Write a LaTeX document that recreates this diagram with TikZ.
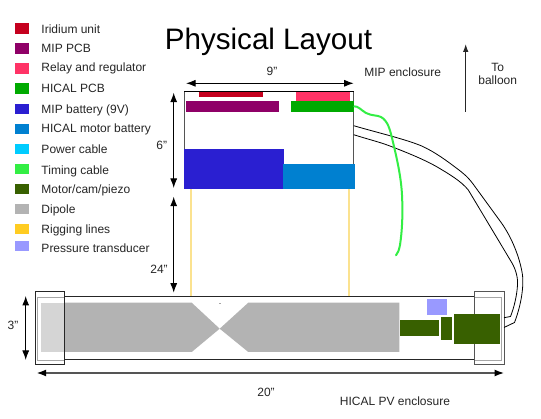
\documentclass[tikz,border=0pt]{standalone}
\usepackage{fontspec}
\setmainfont{Liberation Sans}
\usetikzlibrary{arrows.meta}
\definecolor{cIrid}{HTML}{C5001E}
\definecolor{cMip}{HTML}{8F0067}
\definecolor{cRelay}{HTML}{FF3366}
\definecolor{cHical}{HTML}{00AA00}
\definecolor{cBatt}{HTML}{2A1FD1}
\definecolor{cMotB}{HTML}{0080D0}
\definecolor{cPower}{HTML}{00CCFF}
\definecolor{cTiming}{HTML}{33EE44}
\definecolor{cMotor}{HTML}{386000}
\definecolor{cDipole}{HTML}{B3B3B3}
\definecolor{cRig}{HTML}{FFCC22}
\definecolor{cRigLine}{HTML}{FBE28F}
\definecolor{cPress}{HTML}{9999FF}
\definecolor{cEdge}{HTML}{555555}
\tikzset{
  rbox/.style={inner sep=0pt,outer sep=0pt,rectangle},
  txt/.style={font=\fontsize{12pt}{13pt}\selectfont,text=black!85,inner sep=0pt},
  legendtxt/.style={txt,anchor=base west},
  dim/.style={black,line width=1pt,{Latex[length=9.5pt,width=7pt,color=black]}-{Latex[length=9.5pt,width=7pt,color=black]}},
  dimend/.style={black!85,line width=1pt,-{Latex[length=8pt,width=5.5pt]}},
  cable/.style={black,line width=.8pt},
  timing/.style={cTiming,line width=2pt,line cap=round},
  rigging/.style={cRigLine,line width=1.4pt}
}
\newcommand{\rb}[6]{\node[rbox,minimum width={(#4-#2)*1pt},minimum height={(#5-#3)*1pt},#6] (#1) at ({(#2+#4)/2},{(#3+#5)/2}) {};}
\newcommand{\lgd}[5]{\rb{s#1}{15}{#2}{29}{#2+10.8}{fill=#4}
  \node[legendtxt] (t#1) at (41.3,#3+4.3) {#5};}
\begin{document}
\begin{tikzpicture}[x=1pt,y=-1pt]
\useasboundingbox (0,0) rectangle (541,419);
\fill[white] (0,0) rectangle (541,419);
% legend
\lgd{a}{23.5}{29.7}{cIrid}{Iridium unit}
\lgd{b}{43.5}{48.7}{cMip}{MIP PCB}
\lgd{c}{63.3}{67.7}{cRelay}{Relay and regulator}
\lgd{d}{83.5}{88.7}{cHical}{HICAL PCB}
\lgd{e}{103.7}{109.7}{cBatt}{MIP battery (9V)}
\lgd{f}{123.6}{128.7}{cMotB}{HICAL motor battery}
\lgd{g}{143.6}{149.3}{cPower}{Power cable}
\lgd{h}{163.6}{170.3}{cTiming}{Timing cable}
\lgd{i}{183.6}{189.7}{cMotor}{Motor/cam/piezo}
\lgd{j}{203.6}{209}{cDipole}{Dipole}
\lgd{k}{223.6}{229.3}{cRig}{Rigging lines}
\lgd{l}{240.6}{248.7}{cPress}{Pressure transducer}
% title
\node[inner sep=0pt,anchor=base,font=\fontsize{29.6pt}{34pt}\selectfont] (title) at (268.5,49.5) {Physical Layout};
\node[txt] (mipenc) at (402.7,72) {MIP enclosure};
\node[txt] (balloonA) at (497.7,67) {To};
\node[txt] (balloonB) at (497.7,80.7) {balloon};
\coordinate (upT) at (465.7,44);
\coordinate (upB) at (465.7,111.7);
\draw[dimend] (upB) -- (upT);
% rigging
\coordinate (rigA) at (191,297);
\coordinate (rigB) at (349,297);
\rb{mipbox}{184.3}{91.7}{353.7}{188.7}{draw=cEdge,line width=1pt,fill=white}
\draw[rigging] (mipbox.south west -| rigA) -- (rigA);
\draw[rigging] (mipbox.south west -| rigB) -- (rigB);
% MIP enclosure contents
\draw[black,line width=.8pt] (mipbox.north west) -- (mipbox.north east);
\rb{irid}{199}{91.7}{263}{96.7}{fill=cIrid}
\rb{relay}{296}{91.7}{350}{101.5}{fill=cRelay}
\rb{mippcb}{186}{101}{279.3}{111.7}{fill=cMip}
\rb{hicalpcb}{291}{101}{354.3}{111.7}{fill=cHical}
\rb{mipbat}{184}{149.3}{284}{189}{fill=cBatt}
\rb{motbat}{283}{164}{354.5}{189}{fill=cMotB}
% PV tube
\rb{tube}{64.3}{297}{474.7}{360}{fill=white}
\draw[black!85,line width=1pt] (tube.north west) -- (tube.north east) (tube.south west) -- (tube.south east);
\rb{dipA}{40.7}{302.7}{64}{352}{fill=cDipole!55}
\fill[cDipole] (64,302.7) -- (191.7,302.7) -- (219.7,328.7) -- (191.7,352) -- (64,352) -- cycle;
\fill[cDipole] (399.3,302.7) -- (248.3,302.7) -- (219.7,328.7) -- (248.3,352) -- (399.3,352) -- cycle;
\fill[gray!70] (219.3,302.6) rectangle (220.6,303.4);
\rb{press}{426.7}{299.3}{447}{314.7}{fill=cPress}
% end caps
\rb{capLi}{37.5}{297.3}{64.3}{360}{draw=gray!70,line width=.8pt}
\rb{capRi}{474.7}{297.3}{501.7}{360}{draw=gray!70,line width=.8pt}
\rb{capL}{35.3}{291.3}{64.3}{364.3}{draw=black!85,line width=1pt}
\rb{capR}{474.7}{291.3}{504}{364.3}{draw=cEdge,line width=1pt}
\rb{mot1}{400}{320.3}{439.3}{335.7}{fill=cMotor}
\rb{mot2}{441}{317.3}{452}{339.7}{fill=cMotor}
\rb{mot3}{453.7}{313.7}{500.3}{343.7}{fill=cMotor}
% cables
\coordinate (cabA) at (mipbox.east |- 0,125.7);
\coordinate (cabB) at (mipbox.east |- 0,134.7);
\coordinate (cabC) at (capR.east |- 0,327.5);
\coordinate (cabD) at (capR.east |- 0,317.7);
\draw[cable,rounded corners=0pt] (cabA) .. controls (375,132) and (405,139) .. (421.7,146)
  .. controls (435,152) and (447,161) .. (456.7,168.3)
  .. controls (463,173) and (468,177) .. (473.3,184.3)
  -- (501.7,223.3)
  .. controls (512,238) and (520,258) .. (522.5,275)
  .. controls (524,290) and (520,308) .. (514.5,322.5)
  -- (cabC);
\draw[cable] (cabB) .. controls (372,140.5) and (380,142) .. (393.3,147.3)
  .. controls (408,153) and (425,160) .. (436.7,166.7)
  .. controls (449,174) and (461,181) .. (468.3,190)
  -- (512,263)
  .. controls (516,270) and (518,278) .. (517.5,285)
  .. controls (517,295) and (514,308) .. (510.5,316.5)
  -- (cabD);
\coordinate (timEnd) at (396,255.3);
\draw[timing] (hicalpcb.east) .. controls (358,106) and (361,110) .. (366,113)
  .. controls (372,116) and (377,115) .. (381,117)
  .. controls (388,121) and (390,130) .. (392,138)
  .. controls (396,155) and (401,175) .. (402,195)
  .. controls (403,215) and (402,232) .. (400,245)
  .. controls (399,250) and (398,253) .. (timEnd);
% dimensions
\coordinate (d9a) at (186,83.3);
\coordinate (d9b) at (353.7,83.3);
\draw[dim] (d9a) -- (d9b);
\node[txt] (l9) at (272,71.5) {9"};
\coordinate (d6a) at (173.7,92.7);
\coordinate (d6b) at (173.7,188);
\draw[dim] (d6a) -- (d6b);
\node[txt] (l6) at (161.7,145.7) {6"};
\coordinate (d24a) at (173.7,196.7);
\coordinate (d24b) at (173.7,292.7);
\draw[dim] (d24a) -- (d24b);
\node[txt] (l24) at (159,269) {24"};
\coordinate (d3a) at (25.7,296);
\coordinate (d3b) at (25.7,360);
\draw[dim] (d3a) -- (d3b);
\node[txt] (l3) at (13,325) {3"};
\coordinate (d20a) at (36.7,373);
\coordinate (d20b) at (504,373);
\draw[dim,draw=cEdge,line width=1.3pt] (d20a) -- (d20b);
\node[txt] (l20) at (266,392) {20"};
\node[txt] (pvenc) at (395,401.5) {HICAL PV enclosure};
\end{tikzpicture}
\end{document}
